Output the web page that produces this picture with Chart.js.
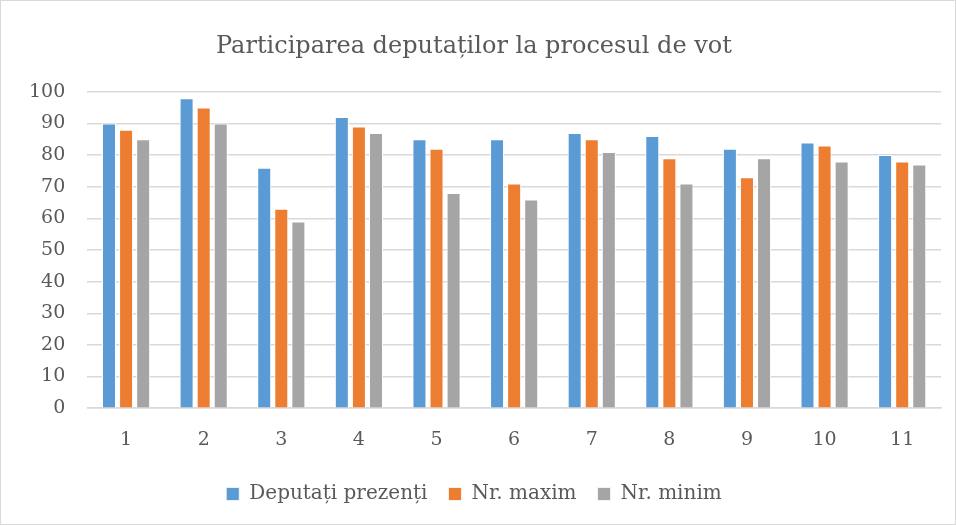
<!DOCTYPE html>
<html>
<head>
<meta charset="utf-8">
<script src="https://cdn.jsdelivr.net/npm/chart.js@4/dist/chart.umd.min.js"></script>
<style>
html,body{margin:0;padding:0;background:#fff;}
#wrap{position:absolute;left:0;top:0;width:954px;height:523px;border:1px solid #d9d9d9;}
</style>
</head>
<body>
<div id="wrap"><canvas id="c" width="954" height="523"></canvas></div>
<script>
const categories = ["1","2","3","4","5","6","7","8","9","10","11"];
const deputatiPrezenti = [90,98,76,92,85,85,87,86,82,84,80];
const nrMaxim = [88,95,63,89,82,71,85,79,73,83,78];
const nrMinim = [85,90,59,87,68,66,81,71,79,78,77];
const yTicks = [0,10,20,30,40,50,60,70,80,90,100];

const FONT = "'DejaVu Serif','Liberation Serif',serif";
const bw = {left:1,right:1,top:1,bottom:0};
new Chart(document.getElementById('c'), {
  type: 'bar',
  data: {
    labels: categories,
    datasets: [
      {label: 'Deputați prezenți', data: deputatiPrezenti, backgroundColor: '#5b9bd5', borderColor:'#ffffff', borderWidth: bw},
      {label: 'Nr. maxim', data: nrMaxim, backgroundColor: '#ed7d31', borderColor:'#ffffff', borderWidth: bw},
      {label: 'Nr. minim', data: nrMinim, backgroundColor: '#a5a5a5', borderColor:'#ffffff', borderWidth: bw}
    ]
  },
  options: {
    responsive: false,
    animation: false,
    layout: {padding: {left: 6, right: 14, top: 14, bottom: 10}},
    datasets: {bar: {categoryPercentage: 0.66, barPercentage: 0.82}},
    plugins: {
      title: {display: true, text: 'Participarea deputaților la procesul de vot', color: '#595959',
        font: {family: FONT, size: 24, weight: 'normal'}, padding: {top: 17, bottom: 31}},
      legend: {position: 'bottom', labels: {color: '#595959', font: {family: FONT, size: 20},
        boxWidth: 13, boxHeight: 13, padding: 21}},
      tooltip: {enabled: false}
    },
    scales: {
      x: {grid: {display: false}, border: {display: true, color: '#d9d9d9', width: 1.5},
        ticks: {color: '#595959', font: {family: FONT, size: 19}, padding: 12}},
      y: {min: 0, max: 100, afterBuildTicks: (s) => { s.ticks = yTicks.map(v => ({value: v})); },
        grid: {color: '#d9d9d9', lineWidth: 1.5, drawTicks: false}, border: {display: false},
        ticks: {color: '#595959', font: {family: FONT, size: 19}, padding: 22}}
    }
  }
});
</script>
</body>
</html>
